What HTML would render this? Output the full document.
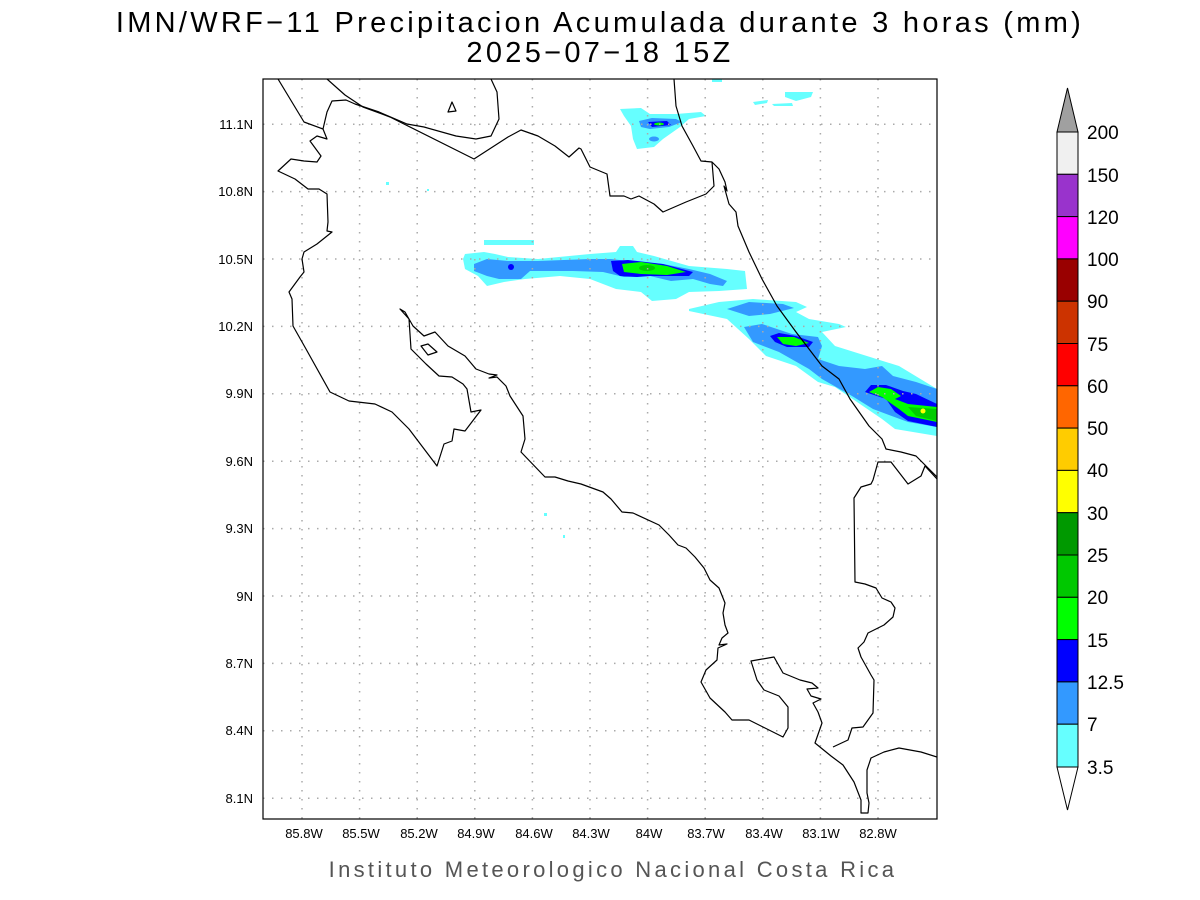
<!DOCTYPE html>
<html><head><meta charset="utf-8"><style>
html,body{margin:0;padding:0;background:#fff;}
svg{display:block;}
text{font-family:"Liberation Sans",sans-serif;}
</style></head><body>
<svg width="1200" height="900" viewBox="0 0 1200 900">
<rect width="1200" height="900" fill="#fff"/>
<text x="600" y="32" font-size="29" text-anchor="middle" letter-spacing="3.3">IMN/WRF−11 Precipitacion Acumulada durante 3 horas (mm)</text>
<text x="600" y="62" font-size="29" text-anchor="middle" letter-spacing="3.3">2025−07−18 15Z</text>

<defs><clipPath id="c"><rect x="263" y="79" width="674" height="740"/></clipPath></defs>
<g clip-path="url(#c)">
<g stroke="none">
<rect x="484" y="240" width="50" height="5" fill="#66ffff"/>
<polygon fill="#66ffff" points="463,259 465,254 484,252 495,254 508,257 538,259 590,254 616,252 620,246 633,246 637,252 654,256 689,266 727,269 745,271 747,289 719,291 689,292 676,299 652,301 641,292 616,289 590,279 560,276 525,279 504,282 487,286 478,276 465,269"/>
<polygon fill="#3399ff" points="474,264 487,259 508,261 538,261 590,259 611,259 628,261 663,264 689,269 710,274 727,281 723,286 710,284 693,279 671,281 650,276 624,277 603,272 573,271 530,271 521,279 499,279 487,276 474,271"/>
<polygon fill="#0000ff" points="611,261 628,260 663,264 693,272 689,276 650,276 637,277 620,276 613,271"/>
<polygon fill="#00ff00" points="622,264 641,262 667,266 686,272 667,275 641,274 624,272"/>
<ellipse cx="647" cy="268" rx="8" ry="3" fill="#00cc00"/>
<circle cx="511" cy="267" r="3" fill="#0000ff"/>
<polygon fill="#66ffff" points="689,309 719,302 753,299 796,302 807,307 796,312 809,319 839,324 846,327 822,332 835,346 899,366 937,389 937,436 895,429 882,419 835,387 818,382 796,366 766,356 749,339 727,319 689,311"/>
<polygon fill="#3399ff" points="727,309 749,302 783,304 794,308 770,314 749,316"/>
<polygon fill="#3399ff" points="744,327 762,324 792,334 818,337 822,346 818,359 839,366 865,369 882,366 893,376 916,382 937,389 937,427 908,422 873,409 852,396 822,379 809,369 779,352 753,342"/>
<polygon fill="#0000ff" points="770,336 779,333 796,336 813,342 809,347 787,347 775,342"/>
<polygon fill="#00ff00" points="777,337 794,337 809,343 796,346 783,344"/>
<polygon fill="#0000ff" points="865,392 871,385 886,385 903,391 916,394 937,404 937,427 908,421 895,412 886,399"/>
<polygon fill="#00ff00" points="869,392 878,387 891,389 901,396 895,399 908,404 937,407 937,422 908,416 899,409 882,397"/>
<polygon fill="#00cc00" points="908,407 937,409 937,421 916,416"/>
<circle cx="923" cy="411" r="2.5" fill="#ffff00"/>
<polygon fill="#66ffff" points="620,109 641,108 650,114 676,114 701,112 706,116 689,119 680,127 663,139 654,147 637,149 633,139 631,126 624,116"/>
<polygon fill="#3399ff" points="639,121 652,118 676,119 682,122 669,127 650,129 641,127"/>
<ellipse cx="654" cy="139" rx="5" ry="2.5" fill="#3399ff"/>
<polygon fill="#0000ff" points="648,122 667,121 671,125 652,127"/>
<ellipse cx="659" cy="124" rx="5" ry="1.5" fill="#00ff00"/>
<polygon fill="#66ffff" points="785,92 813,92 811,97 796,101 785,97"/>
<polygon fill="#66ffff" points="753,102 768,100 767,103 755,105"/>
<polygon fill="#66ffff" points="772,104 792,103 793,106 774,106"/>
<rect x="712" y="79" width="10" height="3" fill="#66ffff"/>
<rect x="386" y="182" width="3" height="3" fill="#66ffff"/>
<rect x="427" y="189" width="2" height="2" fill="#66ffff"/>
<rect x="544" y="513" width="3" height="3" fill="#66ffff"/>
<rect x="563" y="535" width="2" height="3" fill="#66ffff"/>
</g>
<g stroke="#aaa" stroke-width="1.5" stroke-dasharray="1.5,7.5" fill="none">
<path d="M302 79V819M359.6 79V819M417.2 79V819M474.8 79V819M532.4 79V819M590 79V819M647.6 79V819M705.2 79V819M762.8 79V819M820.4 79V819M878 79V819"/>
<path d="M263 124.2H937M263 191.6H937M263 259H937M263 326.4H937M263 393.8H937M263 461.2H937M263 528.6H937M263 596H937M263 663.4H937M263 730.8H937M263 798.2H937"/>
</g>
<g stroke="#000" stroke-width="1.2" fill="none" stroke-linejoin="round">
<polyline points="278,79 304,122 323,129 327,139 317,136 310,141 321,156 317,162 304,161 291,159 278,171 295,179 308,189 319,189 327,194 328,222 327,231 332,232 317,244 304,252 302,259 304,272 300,277 289,292 292,299 293,326 306,349 330,392 349,401 375,404 392,412 409,429 437,466 444,444 452,441 454,429 465,431 481,410 471,412 467,389 463,384 452,377 439,376 426,364 411,349 409,319 400,309 405,312 413,326 424,336 435,332 448,346 465,356 476,369 489,374 497,375 489,378 497,377 506,386 510,396 523,416 525,439 521,452 545,477 555,477 568,481 581,484 603,492 611,499 622,512 633,513 659,525 669,535 678,545 686,548 695,557 704,568 710,580 719,588 725,603 723,613 725,625 728,633 722,638 719,645 727,644 718,648 717,660 706,670 701,682 710,698 725,712 732,720 749,720 783,737 788,728 788,707 779,696 764,690 757,680 751,661 774,657 783,673 800,680 812,683 818,688 807,689 811,696 821,699 813,703 818,712 822,723 815,743 831,756 843,765 854,782 861,800 861,813 868,813 869,803 867,793 867,770 871,758 884,752 899,748 921,752 937,757"/>
<polyline points="833,747 848,740 852,728 863,727 873,713 874,680 871,675 861,657 858,648 864,642 868,633 884,625 893,617 895,608 891,602 882,598 876,588 865,584 855,582 854,498 861,487 871,484 873,480 878,462 891,462 908,484 921,476 925,466 937,479"/>
<polyline points="674,79 676,106 682,126 693,146 701,161 712,162 719,169 725,182 727,191 724,186 729,204 736,212 738,226 749,252 762,279 777,306 796,332 822,366 839,379 850,399 869,426 882,439 886,449 901,452 916,456 937,477"/>
<polyline points="712,162 714,186 706,194 686,202 663,212 654,204 639,196 631,199 624,196 610,196 607,174 590,167 581,149 579,148 569,157 555,146 538,136 521,130 508,137 474,159 390,117 363,107 345,95 327,79"/>
<polyline points="323,129 327,112 332,101 346,100 355,104 379,112 407,124 424,127 456,136 476,139 491,136 499,119 497,92 491,79"/>
<polygon points="448,112 452,102 456,111"/>
<polygon points="421,346 428,344 437,352 428,355"/>
</g>
</g>
<rect x="263" y="79" width="674" height="740" fill="none" stroke="#000" stroke-width="1.2"/>

<g font-size="13" text-anchor="end">
<text x="253" y="129">11.1N</text><text x="253" y="196">10.8N</text><text x="253" y="264">10.5N</text>
<text x="253" y="331">10.2N</text><text x="253" y="398">9.9N</text><text x="253" y="466">9.6N</text>
<text x="253" y="533">9.3N</text><text x="253" y="601">9N</text><text x="253" y="668">8.7N</text>
<text x="253" y="735">8.4N</text><text x="253" y="803">8.1N</text>
</g>
<g font-size="13" text-anchor="middle">
<text x="304" y="838">85.8W</text><text x="361" y="838">85.5W</text><text x="419" y="838">85.2W</text>
<text x="476" y="838">84.9W</text><text x="534" y="838">84.6W</text><text x="591" y="838">84.3W</text>
<text x="649" y="838">84W</text><text x="706" y="838">83.7W</text><text x="764" y="838">83.4W</text>
<text x="821" y="838">83.1W</text><text x="878" y="838">82.8W</text>
</g>
<text x="613" y="877" font-size="22" text-anchor="middle" fill="#555" letter-spacing="3.3">Instituto Meteorologico Nacional Costa Rica</text>

<g stroke="#000" stroke-width="1">
<polygon points="1057,132 1078,132 1067.5,88" fill="#a0a0a0"/>
<rect x="1057" y="132" width="21" height="42.3" fill="#f0f0f0"/>
<rect x="1057" y="174.3" width="21" height="42.3" fill="#9933cc"/>
<rect x="1057" y="216.6" width="21" height="42.3" fill="#ff00ff"/>
<rect x="1057" y="258.9" width="21" height="42.3" fill="#990000"/>
<rect x="1057" y="301.2" width="21" height="42.3" fill="#cc3300"/>
<rect x="1057" y="343.5" width="21" height="42.3" fill="#ff0000"/>
<rect x="1057" y="385.8" width="21" height="42.3" fill="#ff6600"/>
<rect x="1057" y="428.1" width="21" height="42.3" fill="#ffcc00"/>
<rect x="1057" y="470.4" width="21" height="42.3" fill="#ffff00"/>
<rect x="1057" y="512.7" width="21" height="42.3" fill="#009900"/>
<rect x="1057" y="555" width="21" height="42.3" fill="#00c800"/>
<rect x="1057" y="597.3" width="21" height="42.3" fill="#00ff00"/>
<rect x="1057" y="639.6" width="21" height="42.3" fill="#0000ff"/>
<rect x="1057" y="681.9" width="21" height="42.3" fill="#3399ff"/>
<rect x="1057" y="724.2" width="21" height="42.8" fill="#66ffff"/>
<polygon points="1057,767 1078,767 1067.5,810" fill="#fff"/>
</g>
<g font-size="19">
<text x="1087" y="139">200</text><text x="1087" y="182">150</text><text x="1087" y="224">120</text>
<text x="1087" y="266">100</text><text x="1087" y="308">90</text><text x="1087" y="351">75</text>
<text x="1087" y="393">60</text><text x="1087" y="435">50</text><text x="1087" y="477">40</text>
<text x="1087" y="520">30</text><text x="1087" y="562">25</text><text x="1087" y="604">20</text>
<text x="1087" y="647">15</text><text x="1087" y="689">12.5</text><text x="1087" y="731">7</text>
<text x="1087" y="774">3.5</text>
</g>
</svg>
</body></html>
